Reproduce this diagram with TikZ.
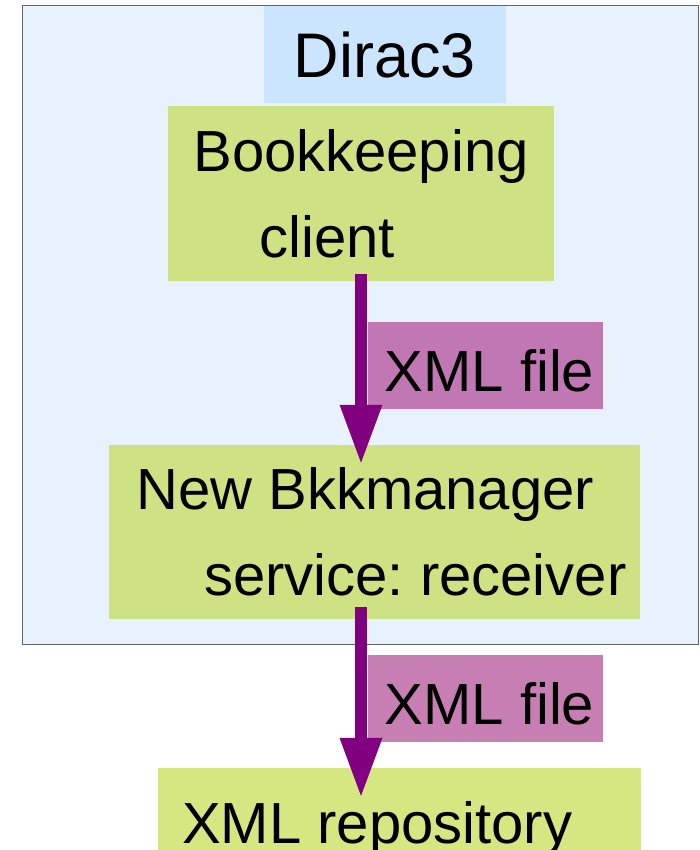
\documentclass[tikz,border=0pt]{standalone}
\usepackage{fontspec}
\setmainfont{Liberation Sans}
\frenchspacing
\usetikzlibrary{arrows.meta,positioning}
\definecolor{paleblue}{HTML}{E8F2FD}
\definecolor{skyblue}{HTML}{CCE5FF}
\definecolor{leaf}{HTML}{CEE283}
\definecolor{leaflight}{HTML}{D6E680}
\definecolor{mauve}{HTML}{C077B3}
\definecolor{mauvelight}{HTML}{C77FB3}
\definecolor{plum}{HTML}{800080}
\tikzset{
  bigtxt/.style={font=\fontsize{58}{86}\selectfont, execute at begin node={\rule{0pt}{52pt}}},
  container/.style={rectangle, draw=black!60, line width=1.2pt, fill=paleblue, minimum width=676pt, minimum height=639pt},
  tag/.style={rectangle, fill=skyblue, inner sep=0pt, font=\fontsize{63}{70}\selectfont, minimum width=242pt, minimum height=97pt},
  comp/.style={rectangle, fill=leaf, bigtxt, align=center, inner sep=0pt},
  msg/.style={rectangle, fill=mauve, bigtxt, inner sep=0pt, minimum width=235pt, minimum height=87pt},
  flow/.style={draw=plum, line width=12pt, -{Triangle[width=39pt,length=60pt]}},
}
\begin{document}
\begin{tikzpicture}[x=1pt,y=1pt]
\useasboundingbox (0,0) rectangle (700,850);
% Dirac3 frame
\node[container] (dirac) at (360.5,524.6) {};
\node[tag] (dlabel) at (385,795.5) {Dirac3};
% components
\node[comp, minimum width=386pt, minimum height=175pt] (client) at (361,656.5) {Bookkeeping\\client\hspace*{68pt}};
\node[comp, minimum width=531pt, minimum height=174pt] (receiver) at (374.3,318) {New Bkkmanager\hspace*{18pt}\\\hspace*{82pt}service: receiver};
\node[comp, fill=leaflight, minimum width=482.6pt, minimum height=110pt, anchor=north] (repo) at (399.3,82) {XML repository\hspace*{44pt}};
% messages
\node[msg] (xml1) at (485,484.5) {\hspace*{9pt}XML file};
\node[msg, fill=mauvelight] (xml2) at (485,151.5) {\hspace*{9pt}XML file};
\draw[flow] ([yshift=7pt]client.south) -- ([yshift=-20pt]client.south |- receiver.north);
\draw[flow] ([yshift=12pt]client.south |- receiver.south) -- ([yshift=-30pt]client.south |- repo.north);
\end{tikzpicture}
\end{document}
